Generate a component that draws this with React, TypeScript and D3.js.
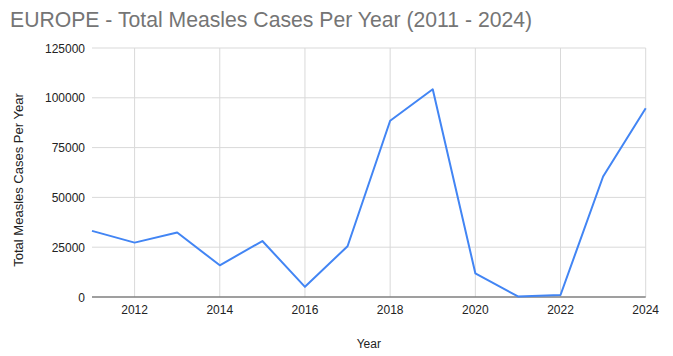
import React from "react";
import * as d3 from "d3";

// Annual measles case totals for Europe
const years: number[] = [2011, 2012, 2013, 2014, 2015, 2016, 2017, 2018, 2019, 2020, 2021, 2022, 2023, 2024];
const cases: number[] = [33200, 27300, 32400, 15900, 28100, 5100, 25500, 88500, 104300, 11900, 300, 1000, 60500, 94800];

const yTicks: number[] = [0, 25000, 50000, 75000, 100000, 125000];
const xTicks: number[] = [2012, 2014, 2016, 2018, 2020, 2022, 2024];

const titleText = "EUROPE - Total Measles Cases Per Year (2011 - 2024)";
const xTitle = "Year";
const yTitle = "Total Measles Cases Per Year";

const W = 673;
const H = 356;
const FONT = "'Liberation Sans', Arial, sans-serif";

export default function App() {
  const x = d3.scaleLinear().domain([2011, 2024]).range([92, 645.7]);
  const y = d3.scaleLinear().domain([0, 125000]).range([297, 48]);

  const line = d3
    .line<number>()
    .x((_, i) => x(years[i]))
    .y((d) => y(d));

  const path = line(cases) ?? "";

  return (
    <svg
      width={W}
      height={H}
      style={{ position: "absolute", left: 0, top: 0, display: "block", background: "#fff" }}
      fontFamily={FONT}
    >
      <text x={10} y={27} fontSize={21.2} fill="#757575">
        {titleText}
      </text>

      {/* horizontal gridlines */}
      {yTicks.slice(1).map((t) => (
        <line key={"h" + t} x1={x(2011)} x2={x(2024)} y1={y(t)} y2={y(t)} stroke="#d9d9d9" strokeWidth={1} />
      ))}
      {/* vertical gridlines */}
      {xTicks.map((t) => (
        <line key={"v" + t} x1={x(t)} x2={x(t)} y1={y(125000)} y2={y(0)} stroke="#d9d9d9" strokeWidth={1} />
      ))}
      {/* baseline */}
      <line x1={x(2011)} x2={x(2024)} y1={y(0)} y2={y(0)} stroke="#7f7f7f" strokeWidth={1.5} />

      {/* y tick labels */}
      {yTicks.map((t) => (
        <text key={"yl" + t} x={85} y={y(t) + 4.5} fontSize={12} fill="#222" textAnchor="end">
          {t}
        </text>
      ))}
      {/* x tick labels */}
      {xTicks.map((t) => (
        <text key={"xl" + t} x={x(t)} y={314} fontSize={12} fill="#222" textAnchor="middle">
          {t}
        </text>
      ))}

      <text x={x(2017.5)} y={348} fontSize={12} fill="#222" textAnchor="middle">
        {xTitle}
      </text>
      <text
        transform={`translate(23, 180) rotate(-90)`}
        fontSize={13}
        fill="#222"
        textAnchor="middle"
      >
        {yTitle}
      </text>

      <path d={path} fill="none" stroke="#4285f4" strokeWidth={2} strokeLinejoin="round" />
    </svg>
  );
}
